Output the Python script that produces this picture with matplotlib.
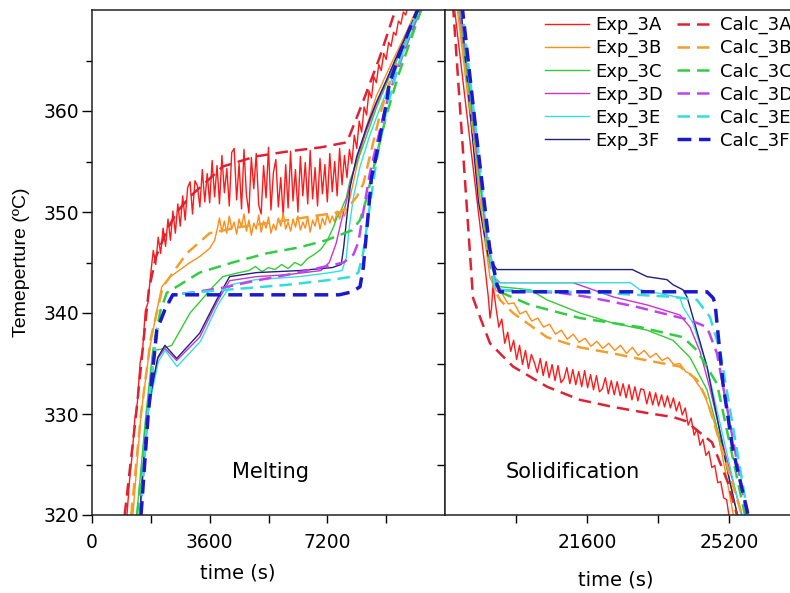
import numpy as np
import matplotlib
matplotlib.use("Agg")
import matplotlib.pyplot as plt
from matplotlib.lines import Line2D

plt.rcParams['font.family'] = ['DejaVu Sans']

# ---------------- data ----------------
series = ['3A', '3B', '3C', '3D', '3E', '3F']
exp_colors = ['#ff1a1a', '#ff8c1a', '#33cc33', '#cc33cc', '#33e0e0', '#202080']
calc_colors = ['#dd2233', '#f0a030', '#33cc44', '#c044ee', '#33dddd', '#1a1acc']

# melting, experiments
exp3a_melt_t = [1070, 1150, 1230, 1310, 1390, 1470, 1550, 1630, 1710] + list(np.arange(1800, 9676, 75))
exp3a_melt_T = [320.0, 323.5, 326.0, 329.5, 331.2, 335.0, 336.4, 340.2, 341.0,
                344.0, 346.2, 344.8, 347.5, 345.9, 348.4, 346.6, 349.3, 347.2, 350.1,
                347.9, 350.8, 348.6, 351.6, 349.2, 352.4, 353.0, 349.8, 353.1, 352.6,
                350.5, 354.2, 351.0, 353.8, 350.9, 355.1, 351.5, 354.6, 350.8, 355.6,
                351.9, 354.3, 350.6, 355.9, 356.3, 351.2, 354.8, 350.3, 356.2, 351.7,
                349.9, 355.4, 352.3, 355.8, 350.7, 349.8, 354.6, 351.4, 356.4, 350.2,
                353.9, 355.2, 350.5, 353.4, 349.6, 354.7, 350.4, 356.0, 351.1, 354.2,
                350.0, 355.5, 351.6, 354.9, 350.8, 356.1, 351.3, 354.4, 350.6, 355.3,
                351.8, 354.7, 351.0, 355.8, 352.0, 355.0, 351.6, 356.3, 352.7, 355.6,
                353.4, 356.2, 354.8, 357.6, 356.3, 359.0, 357.9, 360.4, 359.6, 362.0,
                361.3, 363.4, 362.8, 364.6, 364.0, 365.7, 365.1, 366.8, 366.4, 367.8,
                367.5, 368.9, 368.6, 369.8, 369.5, 370.6]

exp3b_melt_t = ([1250, 1500, 1770, 2000, 2135, 2400, 2700, 3000, 3300, 3600, 3750]
                + list(np.arange(3825, 7726, 75))
                + [7800, 7900, 8100, 8400, 8700, 9100, 9500, 9900, 10000])
exp3b_melt_T = ([320.0, 330.0, 336.6, 340.5, 342.6, 343.6, 344.3, 345.0, 345.6, 346.4, 347.2]
                + [348.2, 349.4, 348.0, 349.1, 347.9, 349.6, 348.3, 349.0, 347.8, 349.3,
                   348.5, 349.8, 348.1, 349.2, 347.7, 348.9, 348.3, 349.7, 348.0, 349.1,
                   348.4, 349.5, 347.9, 348.8, 348.2, 349.4, 348.6, 349.9, 348.3, 349.0,
                   348.1, 349.3, 348.5, 349.6, 348.2, 349.0, 348.4, 349.5, 348.0, 349.2,
                   348.6, 349.7, 348.3, 349.4, 348.7, 349.8, 348.9, 349.6, 349.0, 350.1,
                   349.3, 350.2, 349.6]
                + [350.3, 351.5, 354.5, 358.5, 361.5, 364.3, 367.0, 369.8, 370.5])

exp3c_melt_t = [1370, 1650, 1860, 2100, 2440, 3000, 3700, 4000, 4500, 4800, 5000, 5200, 5400,
                5600, 5800, 6000, 6200, 6400, 6600, 6800, 7000, 7200, 7400, 7500, 7600, 7700,
                7780, 7900, 8266, 8700, 9100, 9500, 9900, 10200]
exp3c_melt_T = [320.0, 330.0, 336.3, 336.4, 336.8, 340.0, 342.6, 343.6, 344.0, 344.2, 344.6,
                344.1, 344.5, 344.3, 344.8, 344.4, 345.0, 344.7, 345.4, 345.8, 346.3, 347.2,
                348.6, 349.5, 350.0, 350.8, 351.4, 353.2, 356.3, 360.3, 363.4, 366.3, 369.0, 370.5]

exp3d_melt_t = [1460, 1680, 2013, 2230, 2590, 3294, 3813, 4209, 5033, 6000, 7000, 7260, 7470,
                7620, 7780, 7900, 8100, 8390, 8690, 9000, 9400, 9900, 10050]
exp3d_melt_T = [320.0, 330.0, 335.5, 336.5, 335.3, 337.6, 341.0, 343.2, 343.6, 343.8, 344.2,
                345.0, 346.9, 349.0, 351.0, 352.8, 355.3, 358.0, 360.6, 362.9, 365.9, 369.4, 370.5]

exp3e_melt_t = [1480, 1700, 2030, 2240, 2600, 3320, 3850, 4250, 5000, 6344, 7300, 7650, 7780,
                7870, 8000, 8200, 8500, 8800, 9100, 9500, 9900, 10150]
exp3e_melt_T = [320.0, 330.0, 335.2, 336.3, 334.7, 337.2, 340.8, 342.8, 343.3, 343.6, 344.0,
                344.2, 345.5, 348.5, 351.5, 354.5, 357.6, 360.2, 362.6, 365.6, 368.7, 370.5]

exp3f_melt_t = [1460, 1680, 2013, 2230, 2590, 3294, 3813, 4209, 5033, 6344, 7351, 7625, 7700,
                7780, 7900, 8100, 8390, 8690, 9000, 9400, 9900, 10050]
exp3f_melt_T = [320.0, 330.0, 335.6, 336.8, 335.5, 338.0, 341.3, 343.6, 344.0, 344.2, 344.5,
                344.8, 346.5, 349.0, 352.5, 355.5, 358.3, 360.8, 363.0, 366.0, 369.5, 370.5]

# melting, calculations
calc3a_melt_t = [1000, 1350, 1600, 1740, 1950, 2290, 2600, 2990, 3500, 4000, 5000, 6000, 7000,
                 7800, 8300, 8800, 9200, 9350]
calc3a_melt_T = [320.0, 330.0, 338.0, 342.3, 345.5, 348.2, 350.0, 351.5, 353.0, 354.5, 355.5,
                 356.0, 356.4, 356.9, 361.0, 365.3, 369.2, 370.5]

calc3b_melt_t = [1200, 1500, 1800, 2166, 2898, 3600, 4500, 6000, 7600, 7870, 8100, 8300, 8500,
                 8800, 9100, 9500, 9900, 10000]
calc3b_melt_T = [320.0, 330.0, 337.5, 342.6, 345.9, 347.9, 348.5, 349.2, 350.0, 350.6, 351.5,
                 352.8, 355.5, 359.5, 362.8, 366.2, 369.8, 370.5]

calc3c_melt_t = [1380, 1700, 1900, 2100, 2288, 3294, 4301, 5338, 6344, 7168, 7961, 8200, 8388,
                 8700, 9000, 9400, 9800, 10100]
calc3c_melt_T = [320.0, 330.0, 337.0, 340.3, 342.0, 344.0, 345.0, 345.9, 346.5, 347.2, 348.2,
                 349.2, 351.2, 355.5, 359.5, 363.8, 367.5, 370.3]

calc3d_melt_t = [1480, 1700, 1983, 2227, 2471, 3000, 4000, 5000, 6000, 7000, 7700, 8000, 8150,
                 8300, 8500, 8800, 9100, 9500, 9900, 10100]
calc3d_melt_T = [320.0, 330.0, 338.3, 340.3, 341.8, 342.0, 342.5, 343.2, 343.8, 344.5, 345.0,
                 345.8, 347.0, 350.0, 353.8, 358.0, 361.8, 365.5, 369.0, 370.5]

calc3e_melt_t = [1480, 1700, 1983, 2227, 2471, 3000, 4500, 6000, 7351, 7961, 8150, 8300, 8450,
                 8700, 9000, 9400, 9800, 10100]
calc3e_melt_T = [320.0, 330.0, 338.3, 340.3, 341.8, 342.0, 342.4, 342.8, 343.3, 343.6, 344.0,
                 346.0, 349.5, 355.0, 360.0, 364.8, 368.5, 370.5]

calc3f_melt_t = [1500, 1720, 1983, 2227, 2471, 3000, 5000, 7564, 7961, 8200, 8300, 8400, 8550,
                 8700, 8998, 9089, 9394, 9700, 10004]
calc3f_melt_T = [320.0, 330.0, 338.3, 340.3, 341.8, 341.8, 341.8, 341.8, 342.1, 342.6, 344.5,
                 348.0, 353.4, 355.6, 360.6, 362.6, 365.5, 368.0, 370.3]

# solidification, experiments
exp3a_sol_t = [18230, 18634, 19014, 19100, 19141, 19180, 19217] + list(np.arange(19290, 25216, 75))
exp3a_sol_T = [370.5, 357.0, 344.5, 341.5, 339.5, 340.5, 342.8,
               340.6, 338.6, 339.4, 337.0, 338.1, 336.2, 337.3, 335.4, 336.8, 334.9,
               336.3, 334.5, 335.9, 335.1, 334.1, 335.5, 333.8, 335.2, 333.6, 334.9,
               333.3, 334.8, 333.1, 333.5, 334.6, 333.0, 334.4, 332.9, 334.2, 332.7,
               334.3, 332.6, 333.9, 332.4, 333.8, 332.2, 332.5, 333.6, 332.0, 333.3,
               331.9, 333.2, 331.8, 333.0, 331.6, 332.9, 331.4, 332.7,
               331.3, 332.5, 332.4, 331.0, 332.2, 330.9, 332.1, 330.8,
               331.9, 330.7, 331.8, 330.6, 331.6, 330.3, 331.2, 329.9, 330.6, 328.9,
               329.6, 327.9, 328.5, 326.9, 327.5, 325.9, 326.3, 324.7, 324.9, 323.2,
               323.3, 321.7, 321.5, 319.5]

exp3b_sol_t = [18300, 18700, 19000, 19141] + list(np.arange(19300, 24551, 150)) + [24700, 24895, 25100, 25301, 25380]
exp3b_sol_T = ([370.5, 357.5, 347.5, 343.5]
               + [342.2, 341.9, 340.9, 341.0, 339.9, 340.2, 339.2, 339.5, 338.6, 338.9,
                  337.9, 338.3, 337.4, 337.9, 337.1, 337.5, 336.7, 337.2, 336.5, 337.0,
                  336.3, 336.8, 336.0, 336.6, 335.8, 336.3, 335.6, 336.0, 335.3, 335.6,
                  334.9, 335.0, 334.2, 333.9, 333.0, 332.2]
               + [330.6, 328.4, 324.5, 320.2, 319.0])

exp3c_sol_t = [18330, 18720, 19050, 19270, 19394, 20155, 20586, 21422, 22259, 23121, 23780,
               24211, 24642, 25047, 25402, 25480]
exp3c_sol_T = [370.5, 358.0, 347.5, 343.2, 342.6, 342.3, 341.3, 340.0, 339.0, 338.3, 337.3,
               335.6, 332.4, 326.4, 320.2, 319.0]

exp3d_sol_t = [18350, 18740, 19070, 19268, 19394, 20916, 21245, 22259, 23121, 23957, 24211,
               24464, 24718, 25098, 25529, 25600]
exp3d_sol_T = [370.5, 358.0, 347.5, 343.4, 343.0, 343.0, 343.0, 341.6, 340.8, 339.8, 338.6,
               336.2, 332.5, 326.2, 320.0, 319.0]

exp3e_sol_t = [18370, 18760, 19080, 19268, 19400, 22700, 22943, 23628, 23957, 24033, 24287,
               24642, 25478, 25550]
exp3e_sol_T = [370.5, 358.0, 347.5, 343.5, 343.0, 343.0, 342.3, 341.8, 341.5, 340.6, 339.0,
               334.7, 320.5, 319.5]

exp3f_sol_t = [18400, 18620, 18850, 19100, 19318, 22750, 23121, 23628, 23780, 24033, 24135,
               24211, 24642, 25225, 25402, 25480]
exp3f_sol_T = [370.5, 360.5, 351.0, 345.5, 344.3, 344.3, 343.6, 343.3, 342.8, 342.3, 341.6,
               340.6, 334.7, 323.2, 320.2, 319.0]

# solidification, calculations
calc3a_sol_t = [18203, 18710, 18887, 19141, 19724, 20586, 21422, 22259, 23121, 23780, 24100,
                24768, 25174, 25402, 25450]
calc3a_sol_T = [370.5, 341.5, 339.6, 337.0, 334.7, 332.7, 331.4, 330.7, 330.1, 329.7, 329.3,
                327.2, 323.2, 320.0, 319.3]

calc3b_sol_t = [18330, 18730, 19060, 19250, 19394, 19724, 20586, 21422, 22259, 23121, 23957,
                24388, 24642, 25529, 25600]
calc3b_sol_T = [370.5, 357.5, 346.5, 342.4, 341.3, 340.0, 337.6, 336.6, 336.0, 335.3, 334.7,
                333.4, 331.4, 320.0, 319.0]

calc3c_sol_t = [18370, 18760, 19090, 19268, 20155, 21422, 22943, 24033, 24388, 24895, 25605, 25680]
calc3c_sol_T = [370.5, 357.5, 346.5, 342.3, 340.8, 339.5, 338.6, 337.6, 336.3, 333.0, 320.0, 319.0]

calc3d_sol_t = [18400, 18780, 19110, 19268, 20916, 21600, 22259, 22867, 24211, 24642, 24895,
                25656, 25720]
calc3d_sol_T = [370.5, 357.5, 346.5, 342.3, 342.0, 341.6, 341.1, 340.6, 339.3, 338.6, 336.0,
                320.0, 319.0]

calc3e_sol_t = [18420, 18800, 19120, 19268, 21930, 23780, 24388, 24718, 24971, 25681, 25750]
calc3e_sol_T = [370.5, 357.5, 346.5, 342.3, 342.0, 341.6, 341.3, 339.6, 336.3, 320.0, 319.0]

calc3f_sol_t = [18431, 18800, 19130, 19318, 19394, 24642, 24794, 24845, 25047, 25301, 25656, 25720]
calc3f_sol_T = [370.5, 357.5, 346.5, 342.8, 342.1, 342.1, 341.5, 341.0, 333.0, 326.4, 320.5, 319.0]

exp_melt = [(exp3a_melt_t, exp3a_melt_T), (exp3b_melt_t, exp3b_melt_T), (exp3c_melt_t, exp3c_melt_T),
            (exp3d_melt_t, exp3d_melt_T), (exp3e_melt_t, exp3e_melt_T), (exp3f_melt_t, exp3f_melt_T)]
calc_melt = [(calc3a_melt_t, calc3a_melt_T), (calc3b_melt_t, calc3b_melt_T), (calc3c_melt_t, calc3c_melt_T),
             (calc3d_melt_t, calc3d_melt_T), (calc3e_melt_t, calc3e_melt_T), (calc3f_melt_t, calc3f_melt_T)]
exp_sol = [(exp3a_sol_t, exp3a_sol_T), (exp3b_sol_t, exp3b_sol_T), (exp3c_sol_t, exp3c_sol_T),
           (exp3d_sol_t, exp3d_sol_T), (exp3e_sol_t, exp3e_sol_T), (exp3f_sol_t, exp3f_sol_T)]
calc_sol = [(calc3a_sol_t, calc3a_sol_T), (calc3b_sol_t, calc3b_sol_T), (calc3c_sol_t, calc3c_sol_T),
            (calc3d_sol_t, calc3d_sol_T), (calc3e_sol_t, calc3e_sol_T), (calc3f_sol_t, calc3f_sol_T)]

# ---------------- figure ----------------
W, H = 790, 593
fig = plt.figure(figsize=(W / 100, H / 100), dpi=100)
ax1 = fig.add_axes([92 / W, 78 / H, 353 / W, 505 / H])
ax2 = fig.add_axes([445 / W, 78 / H, 355 / W, 505 / H])

dash = (0, (5, 2.8))
dash_f = (0, (4, 2.2))

for ax, exps, calcs in [(ax1, exp_melt, calc_melt), (ax2, exp_sol, calc_sol)]:
    for (t, T), c in zip(exps, exp_colors):
        ax.plot(t, T, color=c, lw=1.0)
    for i, ((t, T), c) in enumerate(zip(calcs, calc_colors)):
        if i == 5:
            ax.plot(t, T, color=c, lw=2.5, linestyle=dash_f)
        else:
            ax.plot(t, T, color=c, lw=1.8, linestyle=dash)
    ax.set_ylim(320, 370)
    for s in ax.spines.values():
        s.set_linewidth(1.1)
        s.set_color('#222222')

ax1.set_xlim(0, 10800)
ax1.set_xticks([0, 3600, 7200])
ax1.set_xticks([1800, 5400, 9000], minor=True)
ax1.set_yticks([320, 330, 340, 350, 360])
ax1.set_yticks([325, 335, 345, 355, 365], minor=True)
ax1.tick_params(axis='y', which='major', direction='out', length=7, width=1, labelsize=13.5, pad=2)
ax1.tick_params(axis='y', which='minor', direction='out', length=4, width=1)
ax1.tick_params(axis='x', which='both', direction='out', length=6, width=1, labelsize=13.5, pad=7)

ax2.set_xlim(18000, 27000)
ax2.set_xticks([21600, 25200])
ax2.set_xticks([19800, 23400], minor=True)
ax2.set_yticks([325, 330, 335, 340, 345, 350, 355, 360, 365])
ax2.tick_params(axis='y', which='major', direction='out', length=6, width=1, labelleft=False)
ax2.tick_params(axis='x', which='both', direction='out', length=6, width=1, labelsize=13.5, pad=7)

fig.text(22 / W, 1 - 262 / H, 'Temeperture (ºC)', rotation=90, ha='center', va='center',
         fontsize=14, family=['Liberation Sans', 'DejaVu Sans'])
fig.text(238 / W, 1 - 573 / H, 'time (s)', ha='center', va='center', fontsize=14)
fig.text(616 / W, 1 - 580 / H, 'time (s)', ha='center', va='center', fontsize=14)
fig.text(270 / W, 1 - 472 / H, 'Melting', ha='center', va='center', fontsize=15)
fig.text(573 / W, 1 - 472 / H, 'Solidification', ha='center', va='center', fontsize=15)

exp_handles = [Line2D([], [], color=c, lw=1.0) for c in exp_colors]
calc_handles = [Line2D([], [], color=c, lw=1.8, linestyle=dash) for c in calc_colors[:5]]
calc_handles.append(Line2D([], [], color=calc_colors[5], lw=2.5, linestyle=dash_f))

leg1 = ax2.legend(exp_handles, ['Exp_' + s for s in series], loc='upper left',
                  bbox_to_anchor=(545 / W, 1 - 16 / H), bbox_transform=fig.transFigure,
                  frameon=False, fontsize=13, handlelength=2.44, handletextpad=0.33,
                  labelspacing=0.27, borderpad=0, borderaxespad=0)
ax2.add_artist(leg1)
ax2.legend(calc_handles, ['Calc_' + s for s in series], loc='upper left',
           bbox_to_anchor=(677 / W, 1 - 16 / H), bbox_transform=fig.transFigure,
           frameon=False, fontsize=13, handlelength=1.83, handletextpad=0.55,
           labelspacing=0.27, borderpad=0, borderaxespad=0)

fig.savefig('out.png', dpi=100)
